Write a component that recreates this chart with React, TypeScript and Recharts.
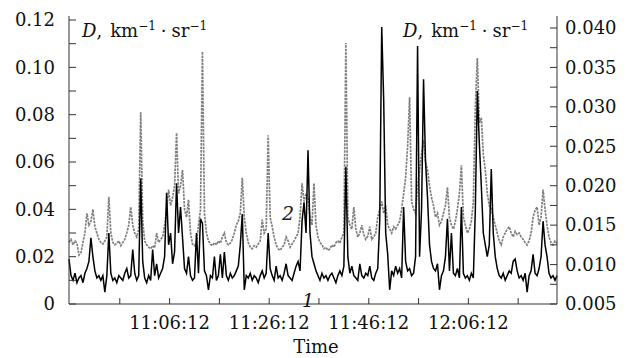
import React from "react";
import { Line, LineChart, XAxis, YAxis } from "recharts";

// time grid: minutes after 10:00:00, one sample every 0.4 min
const T_START = 46;
const T_STEP = 0.4;

// curve 1 (left axis), km^-1 sr^-1
const CURVE_1 = [
  0.019, 0.012, 0.010, 0.013, 0.009, 0.011, 0.012, 0.009, 0.013, 0.015,
  0.018, 0.028, 0.020, 0.014, 0.011, 0.012, 0.010, 0.012, 0.005, 0.012,
  0.030, 0.013, 0.010, 0.011, 0.009, 0.012, 0.011, 0.010, 0.013, 0.015,
  0.011, 0.012, 0.023, 0.013, 0.010, 0.012, 0.053, 0.018, 0.011, 0.009,
  0.012, 0.010, 0.023, 0.012, 0.017, 0.011, 0.013, 0.015, 0.020, 0.047,
  0.025, 0.030, 0.017, 0.022, 0.051, 0.030, 0.041, 0.028, 0.015, 0.013,
  0.020, 0.012, 0.010, 0.011, 0.030, 0.013, 0.036, 0.034, 0.014, 0.012,
  0.006, 0.012, 0.011, 0.020, 0.010, 0.012, 0.021, 0.011, 0.022, 0.012,
  0.010, 0.013, 0.011, 0.012, 0.014, 0.016, 0.025, 0.038, 0.006, 0.012,
  0.011, 0.013, 0.010, 0.012, 0.011, 0.009, 0.012, 0.014, 0.011, 0.013,
  0.030, 0.015, 0.012, 0.010, 0.016, 0.011, 0.012, 0.010, 0.013, 0.017,
  0.012, 0.011, 0.010, 0.013, 0.016, 0.018, 0.014, 0.035, 0.043, 0.030,
  0.065, 0.030, 0.020, 0.017, 0.014, 0.012, 0.010, 0.013, 0.011, 0.012,
  0.010, 0.012, 0.013, 0.011, 0.009, 0.012, 0.014, 0.012, 0.016, 0.058,
  0.020, 0.013, 0.016, 0.012, 0.011, 0.010, 0.017, 0.012, 0.011, 0.013,
  0.012, 0.016, 0.011, 0.010, 0.013, 0.015, 0.035, 0.117, 0.086, 0.030,
  0.021, 0.006, 0.014, 0.012, 0.016, 0.013, 0.015, 0.011, 0.041, 0.018,
  0.014, 0.015, 0.012, 0.013, 0.020, 0.109, 0.020, 0.040, 0.095, 0.060,
  0.045, 0.025, 0.018, 0.015, 0.014, 0.017, 0.006, 0.012, 0.014, 0.020,
  0.036, 0.014, 0.030, 0.013, 0.012, 0.015, 0.011, 0.041, 0.013, 0.011,
  0.012, 0.010, 0.013, 0.011, 0.040, 0.090, 0.068, 0.050, 0.030, 0.025,
  0.020, 0.025, 0.057, 0.030, 0.020, 0.015, 0.012, 0.011, 0.013, 0.010,
  0.012, 0.014, 0.013, 0.018, 0.019, 0.014, 0.011, 0.012, 0.010, 0.013,
  0.005, 0.012, 0.014, 0.021, 0.013, 0.012, 0.015, 0.020, 0.035, 0.025,
  0.020, 0.013, 0.011, 0.012, 0.010, 0.012,
];

// curve 2 (right axis)
const CURVE_2 = [
  0.0128, 0.0132, 0.0125, 0.0130, 0.0127, 0.0112, 0.0115, 0.0128, 0.0140, 0.0165,
  0.0150, 0.0155, 0.0170, 0.0148, 0.0140, 0.0132, 0.0128, 0.0126, 0.0130, 0.0135,
  0.0186, 0.0140, 0.0128, 0.0125, 0.0127, 0.0130, 0.0124, 0.0128, 0.0132, 0.0140,
  0.0150, 0.0173, 0.0150, 0.0140, 0.0135, 0.0145, 0.0293, 0.0155, 0.0130, 0.0125,
  0.0122, 0.0120, 0.0124, 0.0121, 0.0140, 0.0128, 0.0132, 0.0135, 0.0150, 0.0170,
  0.0195, 0.0175, 0.0185, 0.0200, 0.0267, 0.0190, 0.0200, 0.0220, 0.0170, 0.0160,
  0.0182, 0.0140, 0.0126, 0.0124, 0.0128, 0.0150, 0.0169, 0.0370, 0.0165, 0.0140,
  0.0130, 0.0126, 0.0124, 0.0128, 0.0125, 0.0130, 0.0127, 0.0135, 0.0140, 0.0128,
  0.0125, 0.0127, 0.0132, 0.0140, 0.0150, 0.0155, 0.0165, 0.0210, 0.0160, 0.0140,
  0.0128, 0.0122, 0.0120, 0.0124, 0.0122, 0.0126, 0.0130, 0.0157, 0.0140, 0.0145,
  0.0264, 0.0160, 0.0148, 0.0135, 0.0125, 0.0120, 0.0118, 0.0122, 0.0125, 0.0135,
  0.0130, 0.0122, 0.0126, 0.0130, 0.0135, 0.0140, 0.0160, 0.0203, 0.0180, 0.0190,
  0.0185, 0.0160, 0.0150, 0.0203, 0.0150, 0.0135, 0.0128, 0.0125, 0.0120, 0.0122,
  0.0118, 0.0120, 0.0125, 0.0122, 0.0128, 0.0130, 0.0127, 0.0135, 0.0140, 0.0381,
  0.0160, 0.0150, 0.0145, 0.0173, 0.0145, 0.0135, 0.0140, 0.0150, 0.0138, 0.0132,
  0.0136, 0.0148, 0.0132, 0.0135, 0.0140, 0.0160, 0.0170, 0.0180, 0.0165, 0.0175,
  0.0150, 0.0145, 0.0140, 0.0148, 0.0145, 0.0150, 0.0155, 0.0170, 0.0190, 0.0210,
  0.0250, 0.0312, 0.0180, 0.0170, 0.0165, 0.0200, 0.0220, 0.0240, 0.0258, 0.0230,
  0.0220, 0.0200, 0.0185, 0.0175, 0.0160, 0.0165, 0.0150, 0.0155, 0.0165, 0.0175,
  0.0198, 0.0160, 0.0150, 0.0145, 0.0155, 0.0170, 0.0190, 0.0226, 0.0160, 0.0150,
  0.0140, 0.0145, 0.0155, 0.0180, 0.0300, 0.0362, 0.0280, 0.0286, 0.0240, 0.0220,
  0.0190, 0.0175, 0.0170, 0.0160, 0.0150, 0.0140, 0.0130, 0.0125, 0.0135, 0.0140,
  0.0145, 0.0148, 0.0140, 0.0135, 0.0142, 0.0138, 0.0140, 0.0135, 0.0132, 0.0128,
  0.0125, 0.0130, 0.0140, 0.0160, 0.0169, 0.0173, 0.0150, 0.0160, 0.0195, 0.0170,
  0.0150, 0.0135, 0.0128, 0.0125, 0.0130, 0.0127,
];

const LEFT_MAJOR = [0, 0.02, 0.04, 0.06, 0.08, 0.1, 0.12];
const LEFT_MINOR = [0.01, 0.03, 0.05, 0.07, 0.09, 0.11];
const RIGHT_MAJOR = [0.005, 0.01, 0.015, 0.02, 0.025, 0.03, 0.035, 0.04];
const RIGHT_MINOR = [0.0075, 0.0125, 0.0175, 0.0225, 0.0275, 0.0325, 0.0375];
const TIME_MAJOR = [66.2, 86.2, 106.2, 126.2];
const TIME_MINOR = [56.2, 76.2, 96.2, 116.2, 136.2];

const FONT = "'DejaVu Serif', serif";
const AXIS = "#333";

const data = CURVE_1.map((v, i) => ({
  t: T_START + i * T_STEP,
  c1: v,
  c2: CURVE_2[i],
}));

const isIn = (list: number[], v: number) => list.some((m) => Math.abs(m - v) < 1e-6);

const fmtTime = (m: number) => {
  const s = Math.round(m * 60) + 10 * 3600;
  const hh = Math.floor(s / 3600);
  const mm = Math.floor((s % 3600) / 60);
  const ss = s % 60;
  const p = (n: number) => String(n).padStart(2, "0");
  return `${hh}:${p(mm)}:${p(ss)}`;
};

function LeftTick(props: any) {
  const { x, y, payload } = props;
  if (!isIn(LEFT_MAJOR, payload.value)) return <g />;
  return (
    <text x={x} y={y} dy="0.35em" textAnchor="end" fontFamily={FONT} fontSize={18} fill="#111">
      {payload.value === 0 ? "0" : payload.value.toFixed(2)}
    </text>
  );
}

function RightTick(props: any) {
  const { x, y, payload } = props;
  if (!isIn(RIGHT_MAJOR, payload.value)) return <g />;
  return (
    <text x={x} y={y} dy="0.35em" textAnchor="start" fontFamily={FONT} fontSize={18} fill="#111">
      {payload.value.toFixed(3)}
    </text>
  );
}

function TimeTick(props: any) {
  const { x, y, payload } = props;
  if (!isIn(TIME_MAJOR, payload.value)) return <g />;
  return (
    <text x={x} y={y} dy="0.71em" textAnchor="middle" fontFamily={FONT} fontSize={18} fill="#111">
      {fmtTime(payload.value)}
    </text>
  );
}

function UnitLabel({ x }: { x: number }) {
  return (
    <text x={x} y={37} fontFamily={FONT} fontSize={18} fill="#111">
      <tspan fontStyle="italic">D</tspan>
      <tspan>,</tspan>
      <tspan dx={8}>km</tspan>
      <tspan dy={-7} fontSize={12}>−1</tspan>
      <tspan dy={7} dx={5}>·</tspan>
      <tspan dx={5}>sr</tspan>
      <tspan dy={-7} fontSize={12}>−1</tspan>
    </text>
  );
}

export default function App() {
  return (
    <div style={{ position: "absolute", left: 0, top: 0, width: 626, height: 358, background: "#fff" }}>
      <LineChart width={626} height={358} data={data} margin={{ top: 16, right: 0, bottom: 0, left: 0 }}>
        <XAxis
          dataKey="t"
          type="number"
          domain={[46, 144]}
          ticks={[...TIME_MINOR, ...TIME_MAJOR].sort((a, b) => a - b)}
          interval={0}
          height={54}
          tickSize={-6}
          tickMargin={18}
          tick={<TimeTick />}
          stroke={AXIS}
        />
        <YAxis
          yAxisId="left"
          orientation="left"
          type="number"
          domain={[0, 0.1217]}
          ticks={[...LEFT_MAJOR, ...LEFT_MINOR].sort((a, b) => a - b)}
          interval={0}
          width={69}
          tickSize={-7}
          tickMargin={21}
          tick={<LeftTick />}
          stroke={AXIS}
          allowDataOverflow
        />
        <YAxis
          yAxisId="right"
          orientation="right"
          type="number"
          domain={[0.005, 0.04152]}
          ticks={[...RIGHT_MAJOR, ...RIGHT_MINOR].sort((a, b) => a - b)}
          interval={0}
          width={69}
          tickSize={-7}
          tickMargin={15}
          tick={<RightTick />}
          stroke={AXIS}
          allowDataOverflow
        />
        <Line
          yAxisId="right"
          dataKey="c2"
          type="linear"
          stroke="#7f7f7f"
          strokeWidth={1.7}
          strokeDasharray="2.5 1"
          dot={false}
          isAnimationActive={false}
        />
        <Line
          yAxisId="left"
          dataKey="c1"
          type="linear"
          stroke="#000"
          strokeWidth={1.5}
          dot={false}
          isAnimationActive={false}
        />
      </LineChart>
      <svg width={626} height={358} style={{ position: "absolute", left: 0, top: 0, pointerEvents: "none" }}>
        <UnitLabel x={82} />
        <UnitLabel x={403} />
        <text x={282} y={220} fontFamily={FONT} fontStyle="italic" fontSize={19} fill="#222">2</text>
        <text x={302} y={307} fontFamily={FONT} fontStyle="italic" fontSize={19} fill="#111">1</text>
        <text x={316} y={353} textAnchor="middle" fontFamily={FONT} fontSize={18} fill="#111">Time</text>
      </svg>
    </div>
  );
}
